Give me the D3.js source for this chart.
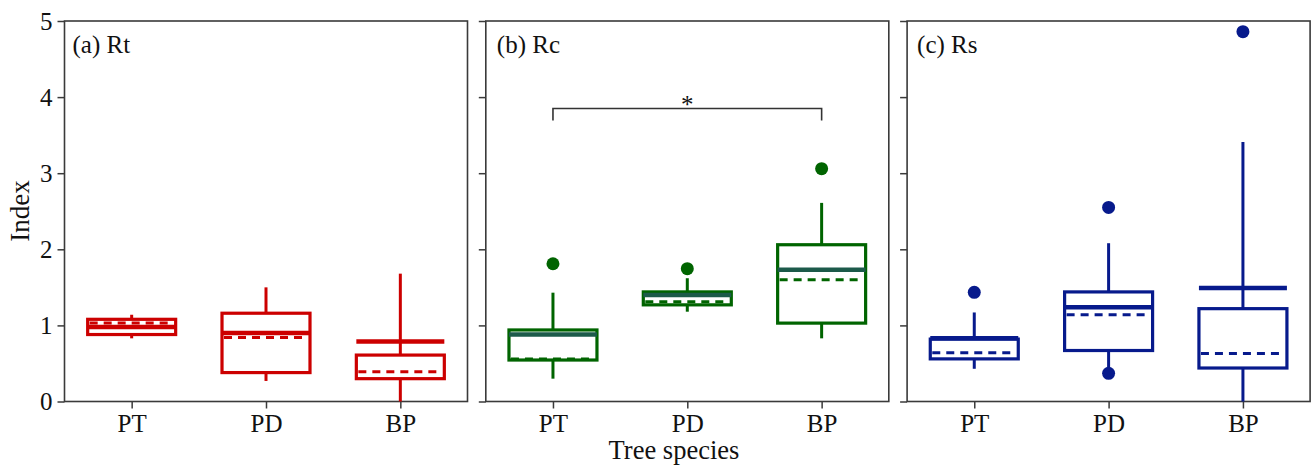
<!DOCTYPE html>
<html>
<head>
<meta charset="utf-8">
<script src="https://cdn.jsdelivr.net/npm/d3@7"></script>
<style>
  html, body { margin: 0; padding: 0; background: #fff; }
  svg { display: block; font-family: "Liberation Serif", "Times New Roman", serif; }
</style>
</head>
<body>
<svg id="chart" width="1314" height="465"></svg>
<script>
// Tree species on the x axis
const species = ["PT", "PD", "BP"];
// Panel titles and colours
const panelTitles = ["(a) Rt", "(b) Rc", "(c) Rs"];
const panelColors = ["#cc0000", "#006400", "#071a8c"];
const medianColors = ["#cc0000", "#1c5a4a", "#071a8c"];
const yTicks = [0, 1, 2, 3, 4, 5];

// Box summaries per panel, one value per species (PT, PD, BP)
const rtWhiskerLow  = [0.83, 0.27, 0.00];
const rtQ1          = [0.88, 0.38, 0.30];
const rtMedian      = [0.98, 0.90, 0.79];
const rtMean        = [1.03, 0.84, 0.39];
const rtQ3          = [1.08, 1.16, 0.61];
const rtWhiskerHigh = [1.14, 1.50, 1.68];
const rtOutliers    = [[], [], []];

const rcWhiskerLow  = [0.30, 1.18, 0.83];
const rcQ1          = [0.545, 1.27, 1.03];
const rcMedian      = [0.88, 1.40, 1.73];
const rcMean        = [0.56, 1.31, 1.60];
const rcQ3          = [0.94, 1.44, 2.06];
const rcWhiskerHigh = [1.43, 1.62, 2.61];
const rcOutliers    = [[1.81], [1.745], [3.06]];

const rsWhiskerLow  = [0.43, 0.45, 0.00];
const rsQ1          = [0.56, 0.67, 0.44];
const rsMedian      = [0.83, 1.24, 1.49];
const rsMean        = [0.64, 1.14, 0.63];
const rsQ3          = [0.82, 1.44, 1.22];
const rsWhiskerHigh = [1.17, 2.08, 3.41];
const rsOutliers    = [[1.435], [2.55, 0.37], [4.86]];

// Significance bracket in panel (b): PT vs BP
const sigPair = ["PT", "BP"];
const sigLevel = 3.85;
const sigLabel = "*";

const panels = [
  [rtWhiskerLow, rtQ1, rtMedian, rtMean, rtQ3, rtWhiskerHigh, rtOutliers],
  [rcWhiskerLow, rcQ1, rcMedian, rcMean, rcQ3, rcWhiskerHigh, rcOutliers],
  [rsWhiskerLow, rsQ1, rsMedian, rsMean, rsQ3, rsWhiskerHigh, rsOutliers]
];

const svg = d3.select("#chart");
const plotLeft = 64.5, plotTop = 21, plotBottom = 401.5;
const panelW = 403, gap = 18.3;
const frameColor = "#3a3a3a";

const y = d3.scaleLinear().domain([0, 5]).range([plotBottom, plotTop]);

panels.forEach((p, i) => {
  const [wLo, q1, med, mean, q3, wHi, outs] = p;
  const x0 = plotLeft + i * (panelW + gap);
  const g = svg.append("g").attr("transform", `translate(${x0},0)`);
  const x = d3.scalePoint().domain(species).range([0, panelW]).padding(0.5);
  const boxW = x.step() * 0.655;
  const col = panelColors[i];

  // y axis (labels only on the first panel)
  const yAxis = d3.axisLeft(y).tickValues(yTicks).tickSizeInner(7).tickSizeOuter(0).tickPadding(5)
    .tickFormat(i > 0 ? () => "" : d3.format("d"));
  const ya = g.append("g").call(yAxis);
  ya.select(".domain").remove();
  ya.selectAll("line").attr("stroke", frameColor).attr("stroke-width", 1.5);
  ya.selectAll("text").attr("font-size", 25).attr("fill", "#111").attr("font-family", "Liberation Serif");

  // x axis
  const xAxis = d3.axisBottom(x).tickSizeInner(7).tickSizeOuter(0).tickPadding(6);
  const xa = g.append("g").attr("transform", `translate(0,${plotBottom})`).call(xAxis);
  xa.select(".domain").remove();
  xa.selectAll("line").attr("stroke", frameColor).attr("stroke-width", 1.5);
  xa.selectAll("text").attr("font-size", 25).attr("fill", "#111").attr("font-family", "Liberation Serif");

  // frame
  g.append("rect").attr("x", 0).attr("y", plotTop).attr("width", panelW).attr("height", plotBottom - plotTop)
    .attr("fill", "none").attr("stroke", frameColor).attr("stroke-width", 1.6);

  // panel title
  g.append("text").attr("x", [8, 11, 10][i]).attr("y", 53).attr("font-size", 25).attr("fill", "#111")
    .text(panelTitles[i]);

  species.forEach((s, k) => {
    const cx = x(s);
    const bg = g.append("g");
    // whiskers
    bg.append("line").attr("x1", cx).attr("x2", cx).attr("y1", y(q3[k])).attr("y2", y(wHi[k]))
      .attr("stroke", col).attr("stroke-width", 3);
    bg.append("line").attr("x1", cx).attr("x2", cx).attr("y1", y(q1[k])).attr("y2", y(wLo[k]))
      .attr("stroke", col).attr("stroke-width", 3);
    // box
    bg.append("rect").attr("x", cx - boxW / 2).attr("width", boxW)
      .attr("y", y(Math.max(q1[k], q3[k]))).attr("height", Math.abs(y(q1[k]) - y(q3[k])))
      .attr("fill", "none").attr("stroke", col).attr("stroke-width", 3.2);
    // mean (dashed)
    bg.append("line").attr("x1", cx - boxW / 2 + 2).attr("x2", cx + boxW / 2 - 2)
      .attr("y1", y(mean[k])).attr("y2", y(mean[k]))
      .attr("stroke", col).attr("stroke-width", 3).attr("stroke-dasharray", "8,6");
    // median (solid, thick)
    bg.append("line").attr("x1", cx - boxW / 2).attr("x2", cx + boxW / 2)
      .attr("y1", y(med[k])).attr("y2", y(med[k]))
      .attr("stroke", medianColors[i]).attr("stroke-width", 4.5);
    // outliers
    bg.selectAll("circle").data(outs[k]).join("circle")
      .attr("cx", cx).attr("cy", d => y(d)).attr("r", 6.5).attr("fill", col);
  });

  // significance bracket
  if (i === 1) {
    const xa1 = x(sigPair[0]), xa2 = x(sigPair[1]);
    const yb = y(sigLevel);
    g.append("path")
      .attr("d", `M${xa1},${yb + 12}V${yb}H${xa2}V${yb + 12}`)
      .attr("fill", "none").attr("stroke", "#333").attr("stroke-width", 1.6);
    g.append("text").attr("x", (xa1 + xa2) / 2).attr("y", yb + 4).attr("text-anchor", "middle")
      .attr("font-size", 25).attr("fill", "#111").text(sigLabel);
  }
});

// axis titles
const yTitle = svg.append("g").attr("transform", "translate(29,211)");
yTitle.append("text").attr("transform", "rotate(-90)").attr("text-anchor", "middle")
  .attr("font-size", 27).attr("fill", "#111").text("Index");
svg.append("text").attr("x", 674).attr("y", 459).attr("text-anchor", "middle")
  .attr("font-size", 26.5).attr("fill", "#111").text("Tree species");
</script>
</body>
</html>
